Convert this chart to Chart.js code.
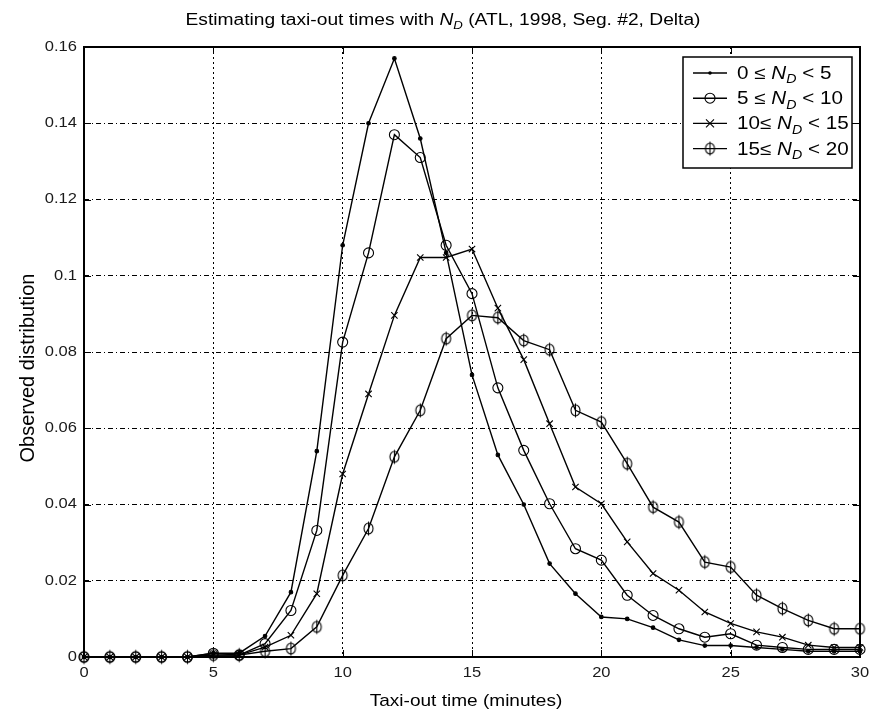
<!DOCTYPE html>
<html>
<head>
<meta charset="utf-8">
<script src="https://cdn.jsdelivr.net/npm/chart.js@4.4.0/dist/chart.umd.min.js"></script>
<style>
  body { margin: 0; background: #fff; }
  canvas { display: block; }
</style>
</head>
<body>
<canvas id="taxi" width="872" height="710"></canvas>
<script>
// taxi-out time, minutes
var minutes = [0, 1, 2, 3, 4, 5, 6, 7, 8, 9, 10, 11, 12, 13, 14, 15, 16, 17, 18, 19, 20, 21, 22, 23, 24, 25, 26, 27, 28, 29, 30];

// observed distribution, one array per N_D bucket
var nd0to5 = [0, 0, 0, 0, 0, 0.001, 0.001, 0.0055, 0.017, 0.054, 0.108, 0.140, 0.157, 0.136, 0.106, 0.074,
              0.053, 0.040, 0.0245, 0.0166, 0.0105, 0.0100, 0.0077, 0.0045, 0.003, 0.003, 0.0025, 0.002, 0.0015, 0.0015, 0.0015];
var nd5to10 = [0, 0, 0, 0, 0, 0.001, 0.0005, 0.0035, 0.0122, 0.0332, 0.0826, 0.106, 0.137, 0.131, 0.108, 0.0953,
               0.0706, 0.0542, 0.0402, 0.0284, 0.0254, 0.0162, 0.0109, 0.0074, 0.0052, 0.0061, 0.0031, 0.0025, 0.002, 0.002, 0.002];
var nd10to15 = [0, 0, 0, 0, 0, 0.0005, 0.0005, 0.0026, 0.0057, 0.0166, 0.048, 0.069, 0.0896, 0.1048, 0.1048, 0.107,
                0.0915, 0.078, 0.0612, 0.0446, 0.0402, 0.0302, 0.0219, 0.0175, 0.0118, 0.0088, 0.0066, 0.0052, 0.0031, 0.0025, 0.0025];
var nd15to20 = [0, 0, 0, 0, 0, 0.0005, 0.0005, 0.0015, 0.0022, 0.0079, 0.0214, 0.0337, 0.0525, 0.0647, 0.0835, 0.0896,
                0.089, 0.083, 0.0806, 0.0647, 0.0616, 0.0507, 0.0393, 0.0354, 0.0249, 0.0236, 0.0162, 0.0127, 0.0096, 0.0074, 0.0074];

var xTicks = [0, 5, 10, 15, 20, 25, 30];
var xTickLabels = ['0', '5', '10', '15', '20', '25', '30'];
var yTicks = [0, 0.02, 0.04, 0.06, 0.08, 0.1, 0.12, 0.14, 0.16];
var yTickLabels = ['0', '0.02', '0.04', '0.06', '0.08', '0.1', '0.12', '0.14', '0.16'];

var legendLeft = ['0 \u2264 ', '5 \u2264 ', '10\u2264 ', '15\u2264 '];
var legendRight = [' < 5', ' < 10', ' < 15', ' < 20'];

var FONT = '"Liberation Sans", Arial, Helvetica, sans-serif';

function pts(ys) {
    return ys.map(function (y, i) { return { x: minutes[i], y: y }; });
}

// marker for the last series: a phi-like circle with a vertical stroke
var phi = document.createElement('canvas');
phi.width = 15; phi.height = 17;
(function () {
    var c = phi.getContext('2d');
    c.strokeStyle = '#000';
    c.lineWidth = 1.1;
    c.beginPath();
    c.ellipse(7.5, 8.5, 4.5, 5.5, 0, 0, Math.PI * 2);
    c.stroke();
    c.beginPath();
    c.moveTo(7.5, 1.5); c.lineTo(7.5, 15.5);
    c.stroke();
})();

function drawMarker(ctx, k, x, y) {
    ctx.save();
    ctx.strokeStyle = '#000';
    ctx.fillStyle = '#000';
    ctx.lineWidth = 1.1;
    if (k == 0) {
        ctx.beginPath(); ctx.arc(x, y, 1.8, 0, Math.PI * 2); ctx.fill();
    } else if (k == 1) {
        ctx.beginPath(); ctx.arc(x, y, 5, 0, Math.PI * 2); ctx.stroke();
    } else if (k == 2) {
        ctx.beginPath();
        ctx.moveTo(x - 4, y - 4); ctx.lineTo(x + 4, y + 4);
        ctx.moveTo(x + 4, y - 4); ctx.lineTo(x - 4, y + 4);
        ctx.stroke();
    } else {
        ctx.drawImage(phi, x - 7.5, y - 8.5);
    }
    ctx.restore();
}

// plain text, squeezed or widened horizontally by sx
function wideText(ctx, txt, x, y, size, sx, align, base) {
    ctx.save();
    ctx.translate(x, y);
    ctx.scale(sx, 1);
    ctx.font = size + 'px ' + FONT;
    ctx.textAlign = align;
    ctx.textBaseline = base;
    ctx.fillText(txt, 0, 0);
    ctx.restore();
}

// "prefix N_D suffix" at x, y (baseline)
function ndText(ctx, pre, post, x, y, size, sx, align) {
    var reg = size + 'px ' + FONT, ital = 'italic ' + size + 'px ' + FONT, sub = 'italic ' + Math.round(size * 0.7) + 'px ' + FONT;
    ctx.save();
    ctx.font = reg; var w1 = ctx.measureText(pre).width, w4 = ctx.measureText(post).width;
    ctx.font = ital; var w2 = ctx.measureText('N').width;
    ctx.font = sub; var w3 = ctx.measureText('D').width;
    ctx.translate(x, y);
    ctx.scale(sx, 1);
    var s = align == 'center' ? -(w1 + w2 + w3 + w4) / 2 : 0;
    ctx.textAlign = 'left';
    ctx.textBaseline = 'alphabetic';
    ctx.font = reg; ctx.fillText(pre, s, 0);
    ctx.font = ital; ctx.fillText('N', s + w1, 0);
    ctx.font = sub; ctx.fillText('D', s + w1 + w2, size * 0.25);
    ctx.font = reg; ctx.fillText(post, s + w1 + w2 + w3, 0);
    ctx.restore();
}

var decor = {
    id: 'decor',
    afterDraw: function (chart) {
        var ctx = chart.ctx, a = chart.chartArea;
        var sx = chart.scales.x, sy = chart.scales.y;
        ctx.save();
        ctx.strokeStyle = '#000';
        ctx.lineWidth = 1;
        // inward tick marks on all four sides
        ctx.beginPath();
        xTicks.forEach(function (v) {
            var px = Math.round(sx.getPixelForValue(v)) + 0.5;
            ctx.moveTo(px, a.bottom); ctx.lineTo(px, a.bottom - 7);
            ctx.moveTo(px, a.top); ctx.lineTo(px, a.top + 7);
        });
        yTicks.forEach(function (v) {
            var py = Math.round(sy.getPixelForValue(v)) + 0.5;
            ctx.moveTo(a.left, py); ctx.lineTo(a.left + 7, py);
            ctx.moveTo(a.right, py); ctx.lineTo(a.right - 7, py);
        });
        ctx.stroke();
        // axes box
        ctx.lineWidth = 2;
        ctx.strokeRect(a.left, a.top, a.right - a.left, a.bottom - a.top);

        // tick labels
        ctx.fillStyle = '#1a1a1a';
        xTicks.forEach(function (v, i) {
            wideText(ctx, xTickLabels[i], sx.getPixelForValue(v), 673, 14, 1.18, 'center', 'middle');
        });
        yTicks.forEach(function (v, i) {
            wideText(ctx, yTickLabels[i], 77, sy.getPixelForValue(v), 14, 1.18, 'right', 'middle');
        });

        // title
        ctx.fillStyle = '#000';
        ndText(ctx, 'Estimating taxi-out times with ', ' (ATL, 1998, Seg. #2, Delta)', 443, 25, 16, 1.2, 'center');

        // axis titles
        wideText(ctx, 'Taxi-out time (minutes)', 466, 706, 17, 1.12, 'center', 'alphabetic');
        ctx.save();
        ctx.translate(34, 368);
        ctx.rotate(-Math.PI / 2);
        ctx.font = '20px ' + FONT;
        ctx.textAlign = 'center';
        ctx.textBaseline = 'alphabetic';
        ctx.fillText('Observed distribution', 0, 0);
        ctx.restore();

        // legend
        var bx = 683, by = 57, bw = 169, bh = 111;
        ctx.fillStyle = '#fff';
        ctx.fillRect(bx, by, bw, bh);
        ctx.lineWidth = 1.5;
        ctx.strokeRect(bx, by, bw, bh);
        ctx.fillStyle = '#000';
        for (var k = 0; k < 4; k++) {
            var ry = 73 + k * 25.2;
            ctx.lineWidth = 1.4;
            ctx.beginPath();
            ctx.moveTo(693, ry); ctx.lineTo(727, ry);
            ctx.stroke();
            drawMarker(ctx, k, 710, ry);
            ndText(ctx, legendLeft[k], legendRight[k], 737, ry + 6, 17.5, 1.18, 'left');
        }
        ctx.restore();
    }
};

function series(label, data, style, radius) {
    return {
        label: label,
        data: pts(data),
        borderColor: '#000',
        backgroundColor: '#000',
        borderWidth: 1.4,
        pointStyle: style,
        pointRadius: radius,
        pointBorderWidth: 1.1,
        pointBorderColor: '#000',
        pointBackgroundColor: style == 'circle' && radius < 3 ? '#000' : 'rgba(0,0,0,0)',
        tension: 0,
        clip: 8
    };
}

new Chart(document.getElementById('taxi').getContext('2d'), {
    type: 'line',
    data: {
        datasets: [
            series('0 \u2264 ND < 5', nd0to5, 'circle', 1.8),
            series('5 \u2264 ND < 10', nd5to10, 'circle', 5),
            series('10\u2264 ND < 15', nd10to15, 'crossRot', 4.5),
            series('15\u2264 ND < 20', nd15to20, phi, 5.5)
        ]
    },
    options: {
        responsive: false,
        animation: false,
        layout: { padding: { top: 47, right: 12, left: 0, bottom: 0 } },
        plugins: { legend: { display: false }, tooltip: { enabled: false }, title: { display: false } },
        scales: {
            x: {
                type: 'linear', min: 0, max: 30,
                afterBuildTicks: function (s) { s.ticks = xTicks.map(function (v) { return { value: v }; }); },
                afterFit: function (s) { s.height = 53; },
                ticks: { display: false },
                grid: { color: '#000', lineWidth: 1, drawTicks: false },
                border: { display: false, dash: [2, 3] }
            },
            y: {
                type: 'linear', min: 0, max: 0.16,
                afterBuildTicks: function (s) { s.ticks = yTicks.map(function (v) { return { value: v }; }); },
                afterFit: function (s) { s.width = 84; },
                ticks: { display: false },
                grid: { color: '#000', lineWidth: 1, drawTicks: false },
                border: { display: false, dash: [5, 3, 1, 3] }
            }
        }
    },
    plugins: [decor]
});
</script>
</body>
</html>
